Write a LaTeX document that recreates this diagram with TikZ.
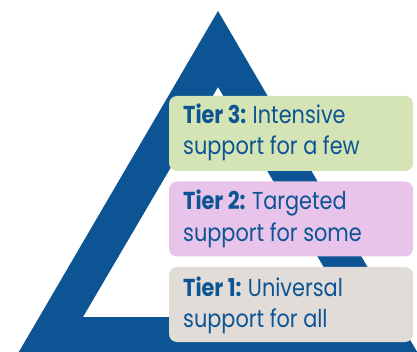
\documentclass[tikz,border=0pt]{standalone}
\usepackage{fontspec}
\setmainfont{Poppins}[FakeStretch=0.85]
\definecolor{triblue}{RGB}{12,84,148}
\definecolor{tgreen}{RGB}{213,228,181}
\definecolor{tpink}{RGB}{232,196,234}
\definecolor{tgray}{RGB}{225,220,216}
\tikzset{
  tierbox/.style={rounded corners=8pt, minimum width=244pt, minimum height=75pt, inner sep=0pt, draw=none},
  tiertext/.style={anchor=base west, inner sep=0pt, text=triblue, font=\fontsize{24.5}{30}\selectfont}
}
\begin{document}
\begin{tikzpicture}[x=1pt,y=-1pt]
\useasboundingbox (0,0) rectangle (417,352);
\begin{scope}
\clip (0,0) rectangle (417,352);
\fill[triblue, even odd rule] (218,11) -- (417.2,352) -- (18.8,352) -- cycle
  (218,87) -- (353,317) -- (83,317) -- cycle;
\end{scope}
\node[tierbox, fill=tgreen] (t3) at (291,133.5) {};
\node[tierbox, fill=tpink] (t2) at (291,219) {};
\node[tierbox, fill=tgray] (t1) at (291,304.5) {};
\node[tiertext] (t3a) at (183,124) {\textbf{Tier 3:}\hspace{-1pt} Intensive};
\node[tiertext] (t3b) at (183,155) {support for a few};
\node[tiertext] (t2a) at (183,210) {\textbf{Tier 2:}\hspace{-1pt} Targeted};
\node[tiertext] (t2b) at (183,242) {support for some};
\node[tiertext] (t1a) at (183,296) {\textbf{Tier 1:}\hspace{-1pt} Universal};
\node[tiertext] (t1b) at (183,327) {support for all};
\end{tikzpicture}
\end{document}
